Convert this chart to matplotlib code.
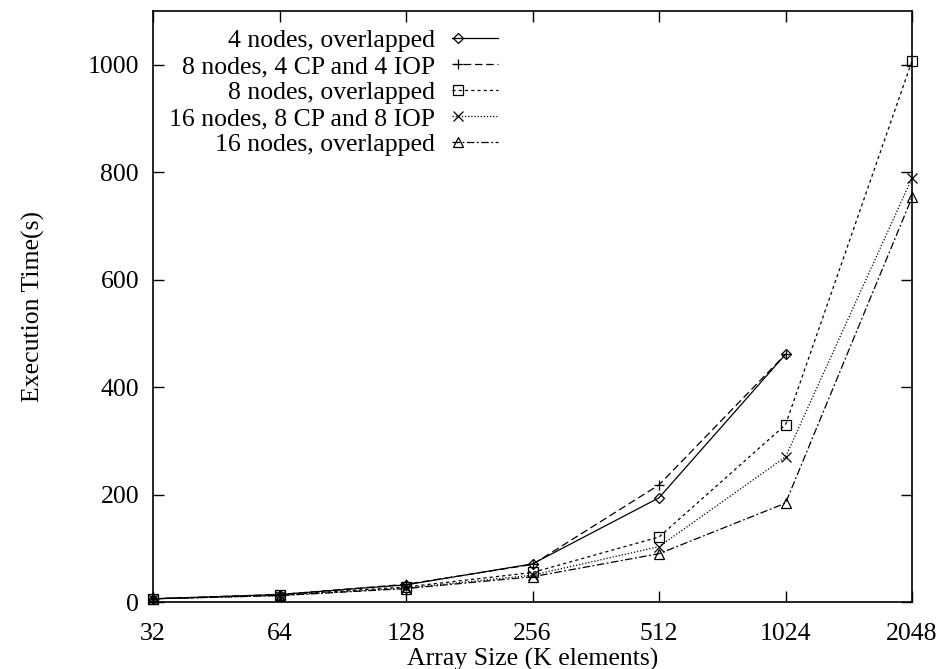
import matplotlib
matplotlib.use("Agg")
import matplotlib.pyplot as plt
from matplotlib.legend_handler import HandlerLine2D

plt.rcParams['font.family'] = ['Liberation Serif', 'DejaVu Serif']

# Array sizes (K elements)
sizes = [32, 64, 128, 256, 512, 1024, 2048]
size_labels = ['32', '64', '128', '256', '512', '1024', '2048']

# Execution times (s)
t_4_overlap = [6, 14, 32, 71, 194, 461]
t_8_cp_iop = [6, 14, 33, 70, 218, 461]
t_8_overlap = [6, 13, 28, 55, 121, 330, 1007]
t_16_cp_iop = [6, 12, 26, 50, 103, 270, 789]
t_16_overlap = [6, 12, 25, 47, 90, 184, 753]

labels = ['4 nodes, overlapped', '8 nodes, 4 CP and 4 IOP', '8 nodes, overlapped',
          '16 nodes, 8 CP and 8 IOP', '16 nodes, overlapped']


class LeftMarker(HandlerLine2D):
    # gnuplot draws the key point near the left of the sample line
    def create_artists(self, legend, orig_handle, xdescent, ydescent, width,
                       height, fontsize, trans):
        arts = super().create_artists(legend, orig_handle, xdescent, ydescent,
                                      width, height, fontsize, trans)
        line = arts[0]
        x = line.get_xdata()
        line.set_xdata([x[0], x[0] + 0.13 * (x[-1] - x[0]), x[-1]])
        return arts


fig = plt.figure(figsize=(9.41, 6.69), dpi=100)
ax = fig.add_axes([0.1626, 0.1001, 0.8066, 0.8835])

lw = 0.9
ms = 7
common = dict(color='black', lw=lw, ms=ms, mfc='none', mew=0.9, clip_on=False)
ax.plot(sizes[:6], t_4_overlap, ls='-', marker='D', ms=5.5, label=labels[0],
        **{k: v for k, v in common.items() if k != 'ms'})
ax.plot(sizes[:6], t_8_cp_iop, ls=(0, (6, 3)), marker='+', label=labels[1], **common)
ax.plot(sizes, t_8_overlap, ls=(0, (2.5, 2.5)), marker='s', label=labels[2], **common)
ax.plot(sizes, t_16_cp_iop, ls=(0, (1, 1.5)), marker='x', label=labels[3], **common)
ax.plot(sizes, t_16_overlap, ls=(0, (6, 2, 1.5, 2)), marker='^', label=labels[4], **common)

ax.set_xscale('log', base=2)
ax.set_xlim(32, 2048)
ax.set_ylim(0, 1100)
ax.set_xticks(sizes)
ax.set_xticklabels(size_labels)
ax.minorticks_off()
ax.set_yticks([0, 200, 400, 600, 800, 1000])

ax.tick_params(direction='in', length=8, width=1, top=True, right=True,
               labelsize=18.5, pad=10)
ax.tick_params(axis='x', pad=15)
for s in ax.spines.values():
    s.set_linewidth(1.2)

ax.set_xlabel('Array Size (K elements)', fontsize=18.5, labelpad=2)
ax.set_ylabel('Execution Time(s)', fontsize=18.5, labelpad=31)

leg = ax.legend(loc='upper right', bbox_to_anchor=(498 / 941, 1 - 29 / 669),
                bbox_transform=fig.transFigure, markerfirst=False,
                frameon=False, fontsize=18.5, labelspacing=0.12, handlelength=1.8,
                handletextpad=0.65, borderaxespad=0.0, borderpad=0.0,
                handler_map={plt.Line2D: LeftMarker(numpoints=1)})

fig.savefig('out.png', dpi=100)
